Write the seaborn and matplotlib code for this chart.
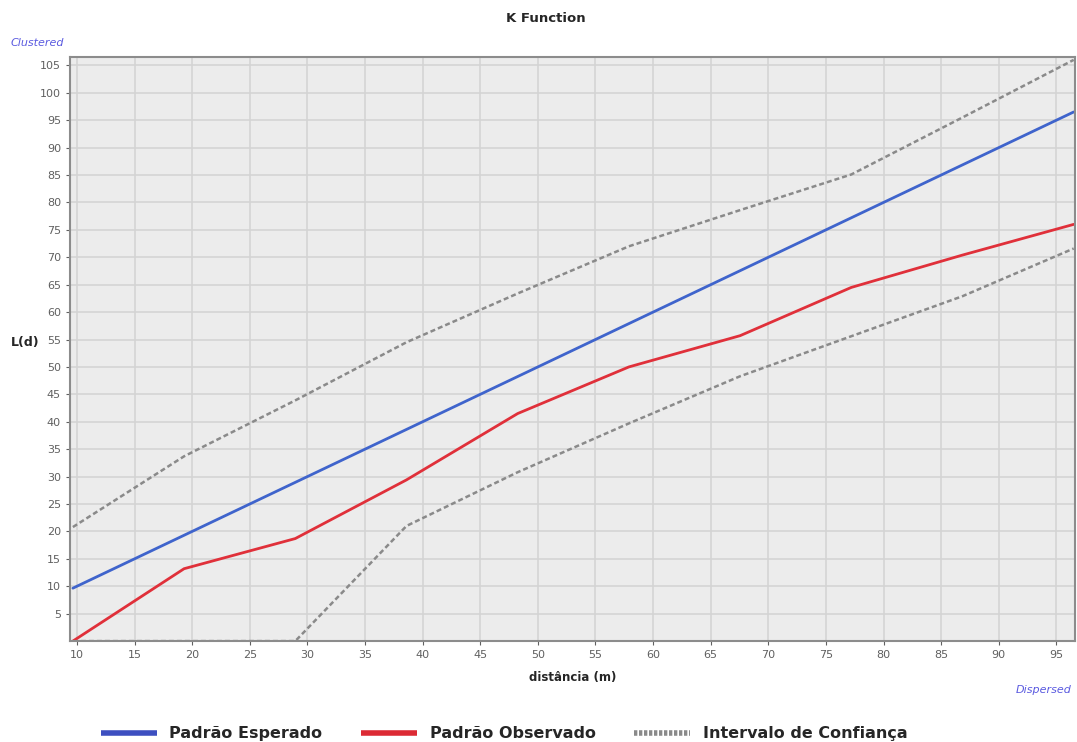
import numpy as np
import pandas as pd
import matplotlib.pyplot as plt
import seaborn as sns
from matplotlib.lines import Line2D

# distances (m) where L(d) was evaluated
distancia = [9.65, 19.3, 28.95, 38.6, 48.25, 57.9, 67.55, 77.2, 86.85, 96.5]
esperado = [9.65, 19.3, 28.95, 38.6, 48.25, 57.9, 67.55, 77.2, 86.85, 96.5]
observado = [0.0, 13.2, 18.7, 29.4, 41.5, 50.0, 55.7, 64.5, 70.4, 76.0]
ic_superior = [20.8, 33.7, 43.9, 54.5, 63.4, 72.0, 78.6, 85.1, 95.5, 106.0]
ic_inferior = [0.0, 0.0, 0.0, 21.0, 30.8, 39.7, 48.3, 55.6, 62.9, 71.6]

x_ticks = list(range(10, 100, 5))
y_ticks = list(range(5, 110, 5))

sns.set_style("whitegrid", {"axes.facecolor": "#ececec", "grid.color": "#d2d2d2",
                            "axes.edgecolor": "#8c8c8c"})

fig = plt.figure(figsize=(10.77, 7.42), dpi=100)
ax = fig.add_axes([0.065, 0.136, 0.933, 0.787])

df = pd.DataFrame({"d": distancia, "esp": esperado, "obs": observado,
                   "sup": ic_superior, "inf": ic_inferior})

sns.lineplot(data=df, x="d", y="sup", ax=ax, color="#8a8a8a", lw=1.8, linestyle=(0, (2, 1.2)))
sns.lineplot(data=df, x="d", y="inf", ax=ax, color="#8a8a8a", lw=1.8, linestyle=(0, (2, 1.2)))
sns.lineplot(data=df, x="d", y="esp", ax=ax, color="#3f64cc", lw=2)
sns.lineplot(data=df, x="d", y="obs", ax=ax, color="#e0303a", lw=2)

ax.set_xlim(9.4, 96.6)
ax.set_ylim(0, 106.5)
ax.set_xticks(x_ticks)
ax.set_yticks(y_ticks)
ax.grid(True, which="major", color="#d4d4d4", lw=1.2)
ax.tick_params(axis="both", which="major", labelsize=8, colors="#606060",
               length=3, direction="out", left=True, bottom=True)
for s in ax.spines.values():
    s.set_linewidth(1.5)

ax.set_xlabel("distância (m)", fontsize=8.5, fontweight="bold", labelpad=8)
ax.set_ylabel("L(d)", fontsize=9, fontweight="bold", rotation=0)
ax.yaxis.set_label_coords(-0.045, 0.5)

fig.text(0.507, 0.975, "K Function", ha="center", va="center",
         fontsize=9.5, fontweight="bold")
fig.text(0.01, 0.942, "Clustered", color="#5a5ae0", style="italic", fontsize=8,
         va="center")
fig.text(0.995, 0.07, "Dispersed", color="#5a5ae0", style="italic", fontsize=8,
         ha="right", va="center")

handles = [
    Line2D([], [], color="#3d4fc0", lw=4, solid_capstyle="butt"),
    Line2D([], [], color="#dc2a34", lw=4, solid_capstyle="butt"),
    Line2D([], [], color="#8a8a8a", lw=4, linestyle=(0, (0.6, 0.3)),
           dash_capstyle="butt"),
]
fig.legend(handles, ["Padrão Esperado", "Padrão Observado", "Intervalo de Confiança"],
           loc="center", bbox_to_anchor=(0.468, 0.011), ncol=3, frameon=False,
           prop={"size": 11.5, "weight": "bold"}, handlelength=3.5,
           handletextpad=0.8, columnspacing=2.4)

fig.savefig("out.png", dpi=100)
